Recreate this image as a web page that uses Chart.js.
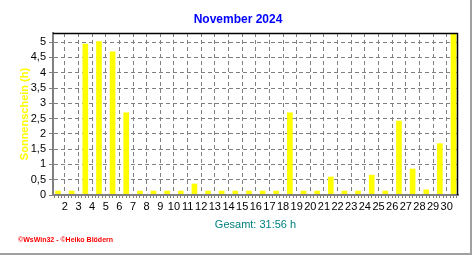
<!DOCTYPE html>
<html>
<head>
<meta charset="utf-8">
<script src="https://cdn.jsdelivr.net/npm/chart.js@4/dist/chart.umd.min.js"></script>
<style>
  body { margin: 0; background: #fff; }
  #wrap { width: 470px; height: 253px; border-right: 2px solid #a0a0a0; border-bottom: 2px solid #a0a0a0; }
</style>
</head>
<body>
<div id="wrap"><canvas id="chart" width="470" height="253"></canvas></div>
<script>
// Sonnenscheindauer pro Tag, November 2024
const days = [1, 2, 3, 4, 5, 6, 7, 8, 9, 10, 11, 12, 13, 14, 15,
              16, 17, 18, 19, 20, 21, 22, 23, 24, 25, 26, 27, 28, 29, 30];
const hours = [0, 0, 4.94, 5.02, 4.68, 2.69, 0, 0, 0, 0, 0.36, 0, 0, 0, 0,
               0, 0, 2.69, 0, 0, 0.59, 0, 0.11, 0.65, 0, 2.42, 0.85, 0.17, 1.68, 5.3];
const yTicks = [0, 0.5, 1, 1.5, 2, 2.5, 3, 3.5, 4, 4.5, 5];

const chartTitle = 'November 2024';
const yTitle = 'Sonnenschein (h)';
const totalText = 'Gesamt: 31:56 h';
const footerText = '©WsWin32 - ©Heiko Blödern';

const sans = "'Liberation Sans', Arial, sans-serif";
const narrow = "'Liberation Sans Narrow', 'Liberation Sans', Arial, sans-serif";

// label for day d sits on the left cell boundary (d - 0.5)
function isBoundary(v) {
    return Math.abs(v + 0.5 - Math.round(v + 0.5)) < 1e-6;
}

const framePlugin = {
    id: 'frame',
    afterDraw(chart) {
        const { ctx, chartArea: a } = chart;
        ctx.save();
        ctx.strokeStyle = '#000';
        ctx.lineWidth = 1.5;
        ctx.beginPath();
        ctx.moveTo(a.left, a.top + 0.5);
        ctx.lineTo(a.right - 0.5, a.top + 0.5);
        ctx.lineTo(a.right - 0.5, a.bottom);
        ctx.stroke();
        ctx.restore();
    }
};

new Chart(document.getElementById('chart'), {
    type: 'bar',
    data: {
        datasets: [{
            data: days.map((d, i) => ({ x: d, y: hours[i] })),
            backgroundColor: '#ffff00',
            borderWidth: 0,
            barThickness: 5,
            minBarLength: 4
        }]
    },
    options: {
        responsive: false,
        animation: false,
        layout: { padding: { left: 18, right: 12, top: 0, bottom: 0 } },
        plugins: {
            legend: { display: false },
            tooltip: { enabled: false },
            title: {
                display: true,
                text: chartTitle,
                color: '#0000ff',
                font: { family: sans, size: 12, weight: 'bold', lineHeight: 1.2 },
                padding: { top: 12, bottom: 6.6 }
            },
            subtitle: {
                display: true,
                position: 'bottom',
                align: 'start',
                text: footerText,
                color: '#ff0000',
                font: { family: sans, size: 7, weight: 'bold', lineHeight: 1 },
                padding: { top: 5, bottom: 9 }
            }
        },
        scales: {
            x: {
                type: 'linear',
                min: 0.63,
                max: 30.33,
                offset: false,
                afterBuildTicks: scale => {
                    const ticks = [];
                    days.forEach(d => {
                        [d - 0.5, d - 0.25, d, d + 0.25].forEach(v => {
                            if (v >= scale.min && v <= scale.max) ticks.push({ value: v });
                        });
                    });
                    scale.ticks = ticks;
                },
                afterFit: scale => { scale.height = 37; },
                ticks: {
                    autoSkip: false,
                    maxRotation: 0,
                    padding: 2,
                    color: '#000',
                    font: { family: narrow, size: 11 },
                    callback: v => isBoundary(v) ? String(Math.round(v + 0.5)) : ''
                },
                grid: {
                    offset: false,
                    color: ctx => ctx.tick && isBoundary(ctx.tick.value) ? '#808080' : 'rgba(0,0,0,0)',
                    tickColor: '#808080',
                    tickLength: 3,
                    tickBorderDash: []
                },
                border: { color: '#808080', width: 2, dash: [4, 3], z: 1 },
                title: {
                    display: true,
                    text: totalText,
                    color: '#008080',
                    font: { family: sans, size: 11, lineHeight: 1.2 },
                    padding: 0
                }
            },
            y: {
                min: 0,
                max: 5.3,
                afterBuildTicks: scale => { scale.ticks = yTicks.map(v => ({ value: v })); },
                afterFit: scale => { scale.width = 35; },
                ticks: {
                    padding: 3,
                    color: '#000',
                    font: { family: narrow, size: 11 },
                    callback: v => String(v).replace('.', ',')
                },
                grid: {
                    color: '#808080',
                    tickColor: '#808080',
                    tickLength: 4,
                    tickBorderDash: []
                },
                border: { color: '#808080', width: 2, dash: [4, 3] },
                title: {
                    display: true,
                    text: yTitle,
                    color: '#ffff00',
                    font: { family: sans, size: 11, weight: 'bold', lineHeight: 1.2 },
                    padding: 0
                }
            }
        }
    },
    plugins: [framePlugin]
});
</script>
</body>
</html>
